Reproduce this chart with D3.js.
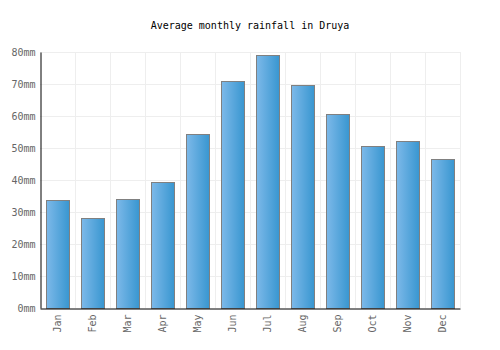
<!DOCTYPE html>
<html>
<head>
<meta charset="utf-8">
<script src="https://cdn.jsdelivr.net/npm/d3@7"></script>
<style>
  body { margin: 0; background: #fff; }
  text { font-family: "DejaVu Sans Mono", monospace; }
</style>
</head>
<body>
<div id="chart"></div>
<script>
// data
const months = ["Jan", "Feb", "Mar", "Apr", "May", "Jun", "Jul", "Aug", "Sep", "Oct", "Nov", "Dec"];
const rainfall = [33.6, 28.1, 34, 39.4, 54.4, 70.9, 79.2, 69.8, 60.5, 50.5, 52.2, 46.6];
const y_ticks = [0, 10, 20, 30, 40, 50, 60, 70, 80];

const width = 500, height = 350;
const margin = { top: 52, right: 40, bottom: 42, left: 40 };

const svg = d3.select("#chart")
	.append("svg")
	.attr("width", width)
	.attr("height", height);

const x = d3.scaleBand()
	.domain(months)
	.range([margin.left, width - margin.right])
	.paddingInner(0.34)
	.paddingOuter(0.17);

const y = d3.scaleLinear()
	.domain([0, 80])
	.range([height - margin.bottom, margin.top]);

// gradient for the bars
const grad = svg.append("defs").append("linearGradient")
	.attr("id", "bar_grad")
	.attr("x1", "0%").attr("x2", "100%")
	.attr("y1", "0%").attr("y2", "0%");
grad.append("stop").attr("offset", "0%").attr("stop-color", "#7db9e9");
grad.append("stop").attr("offset", "100%").attr("stop-color", "#3896d0");

// grid
const grid = svg.append("g").attr("stroke", "#eeeeee").attr("stroke-width", 1);
grid.selectAll("line.h")
	.data(y_ticks.slice(1))
	.enter()
	.append("line")
	.attr("x1", margin.left)
	.attr("x2", width - margin.right)
	.attr("y1", (d) => Math.round(y(d)) + 0.5)
	.attr("y2", (d) => Math.round(y(d)) + 0.5);
const step = x.step();
grid.selectAll("line.v")
	.data(months)
	.enter()
	.append("line")
	.attr("x1", (d, i) => Math.round(margin.left + step * (i + 1)) + 0.5)
	.attr("x2", (d, i) => Math.round(margin.left + step * (i + 1)) + 0.5)
	.attr("y1", margin.top)
	.attr("y2", height - margin.bottom);

// bars
svg.selectAll("rect.bar")
	.data(rainfall)
	.enter()
	.append("rect")
	.attr("class", "bar")
	.attr("x", (d, i) => Math.round(x(months[i])) + 0.5)
	.attr("y", (d) => Math.round(y(d)) + 0.5)
	.attr("width", Math.round(x.bandwidth()))
	.attr("height", (d) => Math.round(y(0)) - Math.round(y(d)))
	.attr("fill", "url(#bar_grad)")
	.attr("stroke", "#808080")
	.attr("stroke-width", 1);

// y axis
const y_axis = svg.append("g")
	.attr("transform", "translate(" + (margin.left + 0.5) + ",0)")
	.call(d3.axisLeft(y).tickValues(y_ticks).tickSize(0).tickPadding(5).tickFormat((d) => d + "mm"));
y_axis.select(".domain").attr("stroke", "#000");
y_axis.selectAll("text").attr("fill", "#666").style("font-size", "10px");

// x axis
const x_axis = svg.append("g")
	.attr("transform", "translate(0," + (Math.round(y(0)) + 0.5) + ")")
	.call(d3.axisBottom(x).tickSize(0).tickPadding(0));
x_axis.select(".domain").attr("stroke", "#000");
x_axis.selectAll("text")
	.attr("fill", "#666")
	.style("font-size", "10px")
	.attr("text-anchor", "end")
	.attr("dy", "0.35em")
	.attr("transform", "translate(0,6) rotate(-90)")
	.attr("x", 0)
	.attr("y", 0);

// title
svg.append("text")
	.attr("x", width / 2)
	.attr("y", 29)
	.attr("text-anchor", "middle")
	.attr("fill", "#000")
	.style("font-size", "10px")
	.text("Average monthly rainfall in Druya");
</script>
</body>
</html>
